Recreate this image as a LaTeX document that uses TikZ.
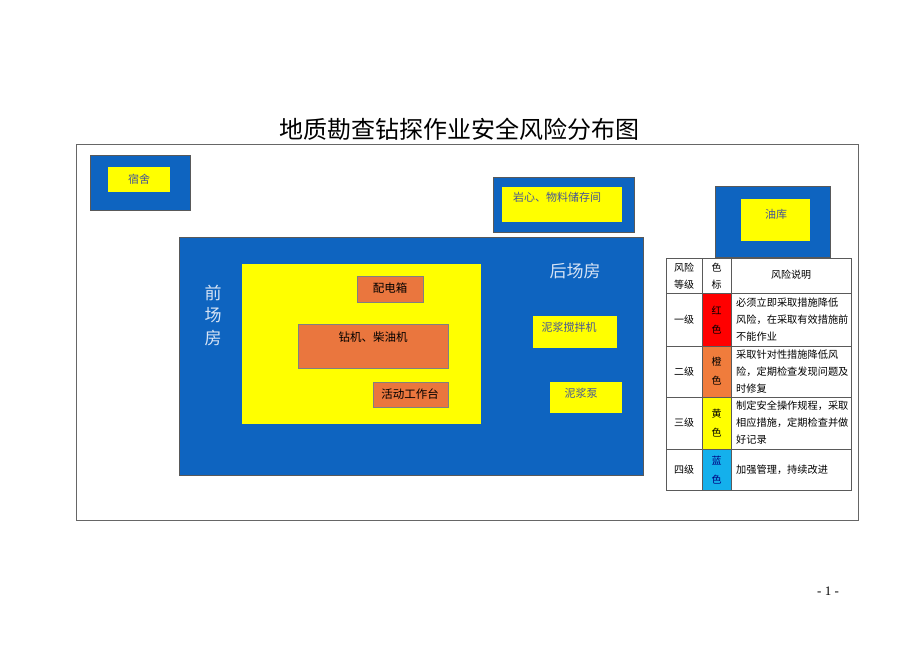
\documentclass[tikz,border=0pt]{standalone}
\usepackage{fontspec}
\setmainfont{Noto Sans CJK SC}
\newfontfamily\pgnum{Liberation Serif}
\definecolor{boxblue}{RGB}{14,100,192}
\definecolor{boxyellow}{RGB}{255,255,0}
\definecolor{boxorange}{RGB}{234,118,62}
\definecolor{lbltext}{RGB}{70,85,150}
\definecolor{roomtext}{RGB}{215,228,245}
\definecolor{gridgray}{RGB}{90,90,90}
\definecolor{cellred}{RGB}{255,0,0}
\definecolor{cellorange}{RGB}{240,124,60}
\definecolor{cellcyan}{RGB}{20,176,236}
\begin{document}
\begin{tikzpicture}[x=1pt,y=-1pt,
  bluebox/.style={draw=gray!70!black,line width=0.8pt,fill=boxblue,inner sep=0pt},
  yelbox/.style={fill=boxyellow,inner sep=0pt},
  orgbox/.style={draw=gray,line width=0.8pt,fill=boxorange,inner sep=0pt},
  lbl/.style={inner sep=0pt,font=\fontsize{11}{13}\selectfont,text=lbltext},
  olbl/.style={inner sep=0pt,font=\fontsize{11.5}{13}\selectfont,text=black},
  room/.style={inner sep=0pt,text=roomtext,font=\fontsize{17}{22.5}\selectfont,align=center},
  cell/.style={draw=gridgray,line width=0.7pt,inner sep=0pt},
  ttxt/.style={inner sep=0pt,font=\fontsize{10}{17}\selectfont,align=center},
  dtxt/.style={inner sep=0pt,font=\fontsize{10.2}{17}\selectfont,align=left,anchor=west}]
\useasboundingbox (0,0) rectangle (920,651);
% title
\node[inner sep=0pt,font=\fontsize{24}{27}\selectfont] (title) at (459,129) {地质勘查钻探作业安全风险分布图};
% frame
\node[draw=gray!80!black,line width=0.8pt,minimum width=782pt,minimum height=376pt,inner sep=0pt] (frame) at (467,332) {};
% dorm
\node[bluebox,minimum width=100pt,minimum height=55pt] (dorm) at (140,182.5) {};
\node[yelbox,minimum width=62pt,minimum height=25pt] (dormin) at (139,179.5) {};
\node[lbl] (dormt) at (139,179) {宿舍};
% storage
\node[bluebox,minimum width=141pt,minimum height=55pt] (store) at (563.5,204.5) {};
\node[yelbox,minimum width=120pt,minimum height=35pt] (storein) at (562,204.5) {};
\node[lbl] (storet) at (557,197) {岩心、物料储存间};
% oil depot
\node[bluebox,minimum width=115pt,minimum height=71pt] (oil) at (772.5,221.5) {};
\node[yelbox,minimum width=69pt,minimum height=42pt] (oilin) at (775.5,220) {};
\node[lbl] (oilt) at (776,214) {油库};
% main site
\node[bluebox,minimum width=464pt,minimum height=238pt] (main) at (411.5,356) {};
\node[yelbox,minimum width=239pt,minimum height=160pt] (yard) at (361.5,343.5) {};
\node[orgbox,minimum width=66pt,minimum height=26pt] (pdx) at (390,289) {};
\node[olbl] (pdxt) at (390,288) {配电箱};
\node[orgbox,minimum width=150pt,minimum height=44pt] (rig) at (373,346) {};
\node[olbl] (rigt) at (373,337) {钻机、柴油机};
\node[orgbox,minimum width=75pt,minimum height=25pt] (bench) at (410.5,394.5) {};
\node[olbl] (bencht) at (410,394) {活动工作台};
\node[room] (front) at (213,315) {前\\场\\房};
\node[room] (back) at (575,271) {后场房};
\node[yelbox,minimum width=84pt,minimum height=32pt] (mixer) at (575,332) {};
\node[lbl] (mixert) at (569,327) {泥浆搅拌机};
\node[yelbox,minimum width=72pt,minimum height=31pt] (pump) at (586,397.5) {};
\node[lbl] (pumpt) at (581,393) {泥浆泵};
% table
\node[cell,fill=white,minimum width=36pt,minimum height=35pt] (h1) at (684,275.5) {};
\node[cell,fill=white,minimum width=29pt,minimum height=35pt] (h2) at (716.5,275.5) {};
\node[cell,fill=white,minimum width=120pt,minimum height=35pt] (h3) at (791,275.5) {};
\node[ttxt] (h1t) at (684,276) {风险\\等级};
\node[ttxt] (h2t) at (716.5,276) {色\\标};
\node[ttxt] (h3t) at (791,275) {风险说明};
% row 1
\node[cell,fill=white,minimum width=36pt,minimum height=53pt] (r1a) at (684,319.5) {};
\node[cell,fill=cellred,minimum width=29pt,minimum height=53pt] (r1b) at (716.5,319.5) {};
\node[cell,fill=white,minimum width=120pt,minimum height=53pt] (r1c) at (791,319.5) {};
\node[ttxt] (r1at) at (684,320) {一级};
\node[ttxt,font=\fontsize{10}{19}\selectfont] (r1bt) at (716.5,320) {红\\色};
\node[dtxt] (r1ct) at (736,320) {必须立即采取措施降低\\风险，在采取有效措施前\\不能作业};
% row 2
\node[cell,fill=white,minimum width=36pt,minimum height=51pt] (r2a) at (684,371.5) {};
\node[cell,fill=cellorange,minimum width=29pt,minimum height=51pt] (r2b) at (716.5,371.5) {};
\node[cell,fill=white,minimum width=120pt,minimum height=51pt] (r2c) at (791,371.5) {};
\node[ttxt] (r2at) at (684,372) {二级};
\node[ttxt,font=\fontsize{10}{19}\selectfont] (r2bt) at (716.5,371) {橙\\色};
\node[dtxt] (r2ct) at (736,372) {采取针对性措施降低风\\险，定期检查发现问题及\\时修复};
% row 3
\node[cell,fill=white,minimum width=36pt,minimum height=52pt] (r3a) at (684,423) {};
\node[cell,fill=boxyellow,minimum width=29pt,minimum height=52pt] (r3b) at (716.5,423) {};
\node[cell,fill=white,minimum width=120pt,minimum height=52pt] (r3c) at (791,423) {};
\node[ttxt] (r3at) at (684,423) {三级};
\node[ttxt,font=\fontsize{10}{19}\selectfont] (r3bt) at (716.5,423) {黄\\色};
\node[dtxt] (r3ct) at (736,423) {制定安全操作规程，采取\\相应措施，定期检查并做\\好记录};
% row 4
\node[cell,fill=white,minimum width=36pt,minimum height=41pt] (r4a) at (684,469.5) {};
\node[cell,fill=cellcyan,minimum width=29pt,minimum height=41pt] (r4b) at (716.5,469.5) {};
\node[cell,fill=white,minimum width=120pt,minimum height=41pt] (r4c) at (791,469.5) {};
\node[ttxt] (r4at) at (684,470) {四级};
\node[ttxt,font=\fontsize{10}{19}\selectfont,text=blue!50!black] (r4bt) at (716.5,470) {蓝\\色};
\node[dtxt] (r4ct) at (736,470) {加强管理，持续改进};
% page number
\node[inner sep=0pt,font=\pgnum\fontsize{13}{15}\selectfont] (pg) at (828,591) {- 1 -};
\end{tikzpicture}
\end{document}
